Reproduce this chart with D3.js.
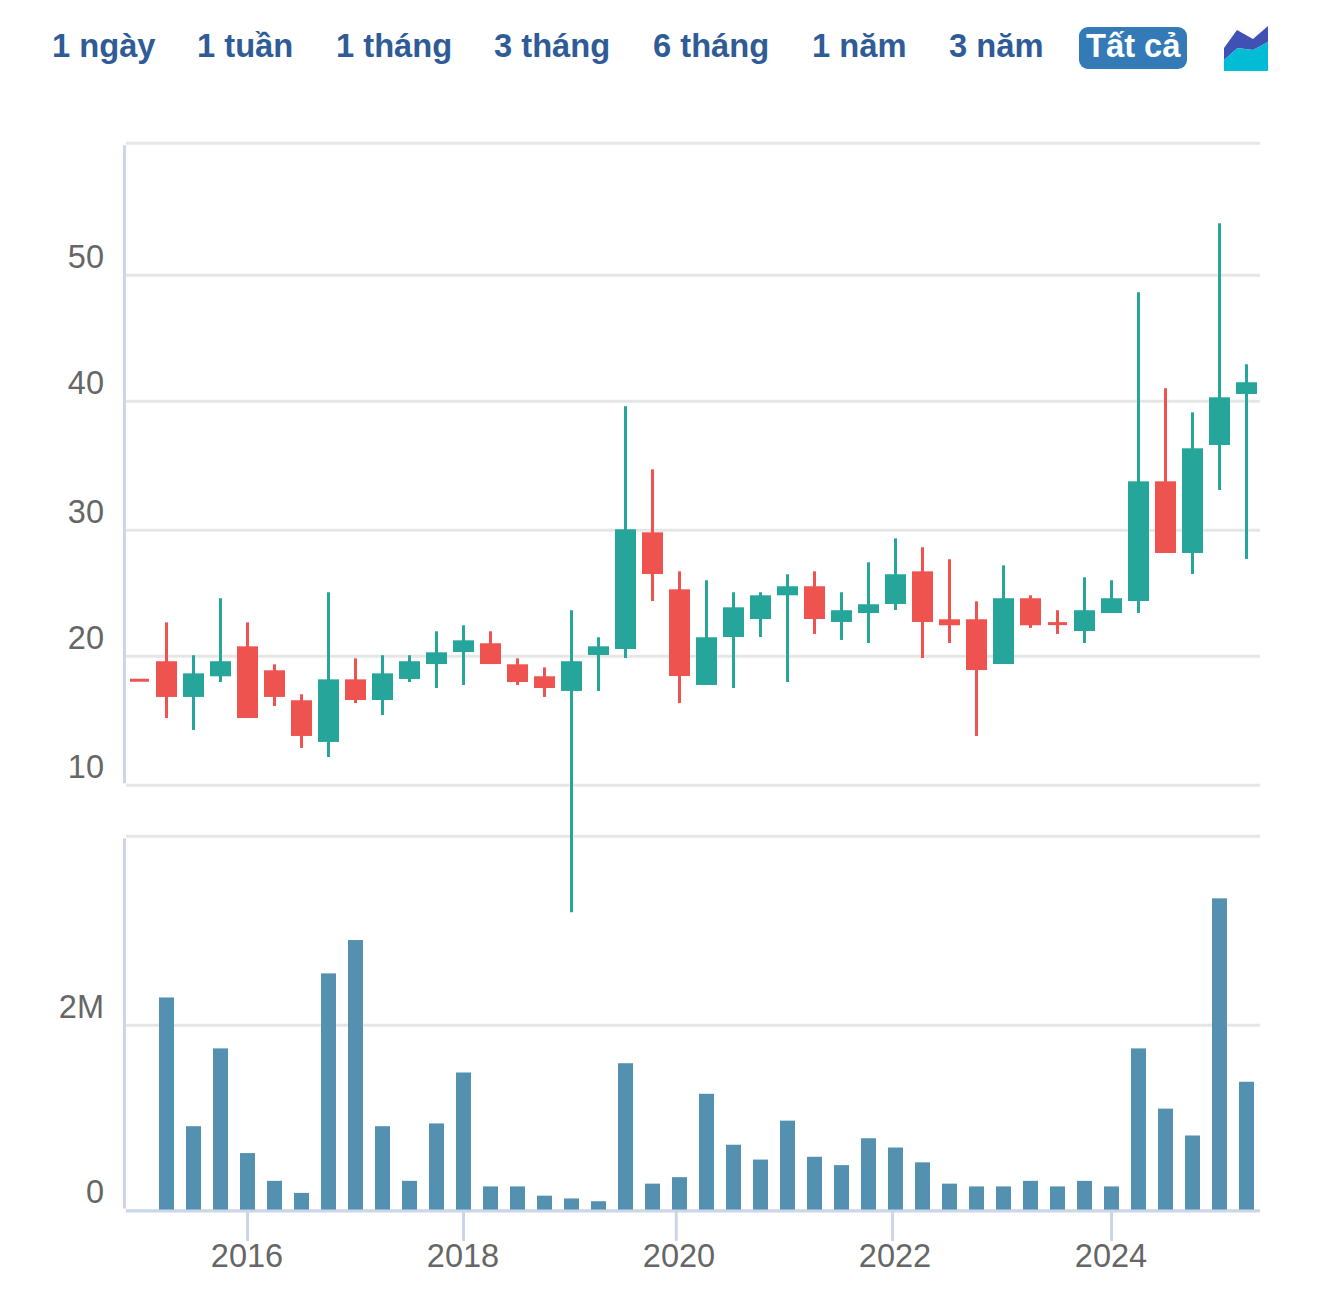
<!DOCTYPE html>
<html>
<head>
<meta charset="utf-8">
<script src="https://cdn.jsdelivr.net/npm/d3@7/dist/d3.min.js"></script>
<style>
  html, body { margin: 0; background: #fff; }
  svg { display: block; font-family: "Liberation Sans", Arial, sans-serif; }
</style>
</head>
<body>
<div id="chart"></div>
<script>
// Quarterly candles. First one is Q1 2015
const quarters = [
  "2015Q1","2015Q2","2015Q3","2015Q4","2016Q1","2016Q2","2016Q3","2016Q4",
  "2017Q1","2017Q2","2017Q3","2017Q4","2018Q1","2018Q2","2018Q3","2018Q4",
  "2019Q1","2019Q2","2019Q3","2019Q4","2020Q1","2020Q2","2020Q3","2020Q4",
  "2021Q1","2021Q2","2021Q3","2021Q4","2022Q1","2022Q2","2022Q3","2022Q4",
  "2023Q1","2023Q2","2023Q3","2023Q4","2024Q1","2024Q2","2024Q3","2024Q4",
  "2025Q1","2025Q2"
];
const opens = [
  18.24,19.73,16.93,18.55,20.90,19.02,16.67,13.40,18.31,16.69,18.34,19.51,20.45,21.14,
  19.49,18.55,17.40,20.22,20.69,29.84,25.37,17.87,21.63,23.04,24.90,25.61,22.81,23.51,
  24.22,26.78,23.02,23.02,19.51,24.67,22.68,22.10,23.51,24.45,33.84,28.22,36.69,40.69
];
const highs = [
  18.24,22.78,20.20,24.67,22.78,19.49,17.14,25.14,19.96,20.20,20.20,22.08,22.55,22.08,
  19.96,19.25,23.73,21.61,39.73,34.78,26.78,26.08,25.14,25.14,26.55,26.78,25.14,27.49,
  29.37,28.67,27.73,24.43,27.25,24.90,23.73,26.31,26.08,48.67,41.14,39.25,54.08,43.02
];
const lows = [
  18.24,15.28,14.34,18.10,15.28,16.22,12.93,12.22,16.45,15.51,18.10,17.63,17.87,19.51,
  17.87,16.93,0.04,17.40,19.98,24.45,16.45,17.87,17.63,21.63,18.10,21.87,21.40,21.16,
  23.75,19.98,21.16,13.87,19.51,22.34,21.87,21.16,23.51,23.51,28.22,26.57,33.16,27.75
];
const closes = [
  18.24,16.93,18.78,19.73,15.28,16.93,13.87,18.31,16.69,18.78,19.73,20.43,21.37,19.51,
  18.10,17.63,19.73,20.90,30.08,26.57,18.57,21.61,23.96,24.90,25.61,23.04,23.73,24.20,
  26.55,22.81,22.55,19.04,24.67,22.55,22.68,23.73,24.67,33.84,28.22,36.43,40.43,41.61
];
// volume in millions
const volumes = [
  0,2.30,0.91,1.75,0.62,0.32,0.19,2.56,2.92,0.91,0.32,0.94,1.49,0.26,
  0.26,0.16,0.13,0.10,1.59,0.29,0.36,1.26,0.71,0.55,0.97,0.58,0.49,0.78,
  0.68,0.52,0.29,0.26,0.26,0.32,0.26,0.32,0.26,1.75,1.10,0.81,3.37,1.39
];

const priceTicks = [10, 20, 30, 40, 50];
const volumeTicks = [0, 2];
const yearLabels = ["2016", "2018", "2020", "2022", "2024"];
// tick marks sit on the dates, labels on the nearest candle
const yearTickIdx = [4, 12, 19.88, 27.89, 36];
const yearLabelIdx = [4, 12, 20, 28, 36];

const rangeButtons = ["1 ngày", "1 tuần", "1 tháng", "3 tháng", "6 tháng", "1 năm", "3 năm", "Tất cả"];
const buttonLeft = [52, 197, 336, 494, 653, 812, 949, 1086];
const activeButton = "Tất cả";

const width = 1320;
const height = 1289;
const plotLeft = 124.5;
const plotRight = 1260;
const priceTop = 143.3;
const priceBottom = 785.3;
const volumeTop = 836.3;
const volumeBottom = 1210.5;
const axisY = 1211;
const bodyWidth = 21;
const dojiWidth = 19;
const barWidth = 15;
const snapStep = 3; // the source chart snaps its grid lines to a 3px step

const up = "#26a69a";
const down = "#ef5350";
const gridColor = "#e6e6e6";
const axisColor = "#ccd6eb";
const labelColor = "#666666";

const svg = d3.select("#chart")
  .append("svg")
  .attr("width", width)
  .attr("height", height);

const xScale = d3.scaleLinear().domain([0, quarters.length - 1]).range([139.5, 1246.5]);
const priceScale = d3.scaleLinear().domain([10, 60.35]).range([priceBottom, priceTop]);
const volumeScale = d3.scaleLinear().domain([0, 4.04]).range([volumeBottom, volumeTop]);

// Range selector
const buttons = svg.append("g");
rangeButtons.forEach((name, i) => {
  if (name === activeButton) {
    buttons.append("rect")
      .attr("x", buttonLeft[i] - 7)
      .attr("y", 27)
      .attr("width", 108)
      .attr("height", 42)
      .attr("rx", 9)
      .attr("fill", "#337ab7");
  }
  buttons.append("text")
    .attr("x", buttonLeft[i])
    .attr("y", 57)
    .attr("font-size", 32.7)
    .attr("font-weight", "bold")
    .attr("fill", name === activeButton ? "#ffffff" : "#2f5b96")
    .text(name);
});

// Chart type icon
svg.append("polygon")
  .attr("points", "1224,48 1237,30 1253,39 1268,26 1268,42 1253,50 1237.5,48 1224,60")
  .attr("fill", "#3f51b5");
svg.append("polygon")
  .attr("points", "1224,60 1237.5,48 1253,50 1268,42 1268,71 1224,71")
  .attr("fill", "#00bcd4");

function styleYAxis(g, scale) {
  const [bottom, top] = scale.range();
  g.selectAll(".tick line")
    .attr("x1", 1.5)
    .attr("stroke", gridColor)
    .attr("stroke-width", 3);
  g.selectAll(".tick text")
    .attr("x", -20.5)
    .attr("y", -18.5)
    .attr("dy", "0.35em")
    .attr("fill", labelColor)
    .attr("font-size", 32.5)
    .attr("font-family", "Liberation Sans");
  g.select(".domain")
    .attr("d", `M0,${top + 2}V${bottom - 2}`)
    .attr("stroke", axisColor)
    .attr("stroke-width", 3);
}

// Price axis, the top line of the pane has no label
svg.append("g")
  .attr("transform", `translate(${plotLeft},0)`)
  .call(d3.axisLeft(priceScale)
    .offset(0)
    .tickValues(priceTicks.concat(priceScale.domain()[1]))
    .tickFormat(d => priceTicks.includes(d) ? d : "")
    .tickSizeInner(plotLeft - plotRight)
    .tickSizeOuter(0))
  .call(styleYAxis, priceScale)
  .call(g => g.selectAll(".tick")
    .attr("transform", d => {
      const steps = Math.ceil((priceBottom - priceScale(d)) / snapStep - 0.05);
      return `translate(0,${priceBottom - steps * snapStep})`;
    }));

// Volume axis
svg.append("g")
  .attr("transform", `translate(${plotLeft},0)`)
  .call(d3.axisLeft(volumeScale)
    .offset(0)
    .tickValues(volumeTicks.concat(volumeScale.domain()[1]))
    .tickFormat(d => volumeTicks.includes(d) ? (d === 0 ? "0" : d + "M") : "")
    .tickSizeInner(plotLeft - plotRight)
    .tickSizeOuter(0))
  .call(styleYAxis, volumeScale);

// Volume bars
svg.append("g")
  .selectAll("rect")
  .data(volumes)
  .join("rect")
  .attr("x", (d, i) => xScale(i) - barWidth / 2)
  .attr("y", d => volumeScale(d))
  .attr("width", barWidth)
  .attr("height", d => volumeBottom - volumeScale(d))
  .attr("fill", "#5490b0");

// Candles
const candles = svg.append("g")
  .selectAll("g")
  .data(quarters)
  .join("g")
  .attr("fill", (d, i) => closes[i] > opens[i] ? up : down)
  .attr("stroke", (d, i) => closes[i] > opens[i] ? up : down);

candles.append("line")
  .attr("x1", (d, i) => xScale(i))
  .attr("x2", (d, i) => xScale(i))
  .attr("y1", (d, i) => priceScale(highs[i]))
  .attr("y2", (d, i) => priceScale(lows[i]))
  .attr("stroke-width", 3);

candles.append("rect")
  .attr("stroke", "none")
  .attr("x", (d, i) => xScale(i) - (opens[i] === closes[i] ? dojiWidth : bodyWidth) / 2)
  .attr("width", (d, i) => opens[i] === closes[i] ? dojiWidth : bodyWidth)
  .attr("y", (d, i) => priceScale(Math.max(opens[i], closes[i])) - (opens[i] === closes[i] ? 1.5 : 0))
  .attr("height", (d, i) => opens[i] === closes[i] ? 3 : Math.abs(priceScale(opens[i]) - priceScale(closes[i])));

// X axis
const xAxis = svg.append("g")
  .attr("transform", `translate(0,${axisY})`)
  .call(d3.axisBottom(xScale)
    .offset(0)
    .tickValues(yearTickIdx)
    .tickFormat((d, i) => yearLabels[i])
    .tickSizeInner(30)
    .tickSizeOuter(0));

xAxis.select(".domain")
  .attr("d", `M${plotLeft + 1.5},0H${plotRight}`)
  .attr("stroke", axisColor)
  .attr("stroke-width", 3);
xAxis.selectAll(".tick line")
  .attr("stroke", axisColor)
  .attr("stroke-width", 3);
xAxis.selectAll(".tick text")
  .attr("x", (d, i) => xScale(yearLabelIdx[i]) - xScale(d) - 0.5)
  .attr("y", 56)
  .attr("dy", 0)
  .attr("fill", labelColor)
  .attr("font-size", 32.5)
  .attr("font-family", "Liberation Sans");
</script>
</body>
</html>
